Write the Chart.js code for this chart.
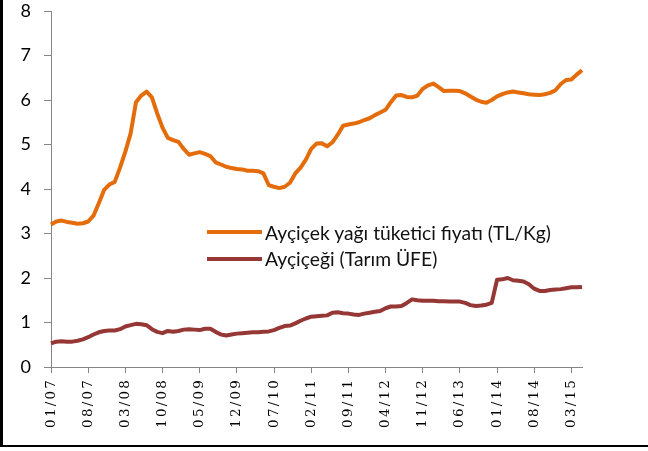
<!DOCTYPE html>
<html>
<head>
<meta charset="utf-8">
<script src="https://cdn.jsdelivr.net/npm/chart.js@4"></script>
<style>
  html, body { margin: 0; padding: 0; background: #fff; }
  #wrap { position: relative; width: 648px; height: 451px; }
  #legend { position: absolute; left: 207px; top: 219px; font-family: Lato, sans-serif; font-size: 19.3px; color: #111; }
  #legend .item { display: flex; align-items: center; height: 26.5px; white-space: nowrap; }
  #legend .swatch { width: 55px; height: 4px; margin-right: 3px; }
</style>
</head>
<body>
<div id="wrap">
  <canvas id="chart" width="648" height="451"></canvas>
  <div id="legend"></div>
</div>
<script>
  // monthly, 01/07 .. 05/15
  const months = [
    "01/07","02/07","03/07","04/07","05/07","06/07","07/07","08/07","09/07","10/07","11/07","12/07",
    "01/08","02/08","03/08","04/08","05/08","06/08","07/08","08/08","09/08","10/08","11/08","12/08",
    "01/09","02/09","03/09","04/09","05/09","06/09","07/09","08/09","09/09","10/09","11/09","12/09",
    "01/10","02/10","03/10","04/10","05/10","06/10","07/10","08/10","09/10","10/10","11/10","12/10",
    "01/11","02/11","03/11","04/11","05/11","06/11","07/11","08/11","09/11","10/11","11/11","12/11",
    "01/12","02/12","03/12","04/12","05/12","06/12","07/12","08/12","09/12","10/12","11/12","12/12",
    "01/13","02/13","03/13","04/13","05/13","06/13","07/13","08/13","09/13","10/13","11/13","12/13",
    "01/14","02/14","03/14","04/14","05/14","06/14","07/14","08/14","09/14","10/14","11/14","12/14",
    "01/15","02/15","03/15","04/15","05/15"
  ];

  // Ayçiçek yağı tüketici fiyatı (TL/Kg)
  const oilPrice = [
    3.20, 3.27, 3.29, 3.26, 3.24, 3.22, 3.23, 3.27, 3.40, 3.68, 3.98, 4.10,
    4.16, 4.48, 4.84, 5.25, 5.95, 6.10, 6.19, 6.06, 5.70, 5.38, 5.15, 5.10,
    5.06, 4.90, 4.77, 4.80, 4.83, 4.79, 4.74, 4.60, 4.55, 4.50, 4.47, 4.45,
    4.44, 4.41, 4.41, 4.40, 4.35, 4.09, 4.05, 4.02, 4.05, 4.14, 4.35, 4.48,
    4.66, 4.90, 5.02, 5.03, 4.96, 5.05, 5.22, 5.42, 5.45, 5.47, 5.50, 5.55,
    5.59, 5.66, 5.72, 5.78, 5.95, 6.10, 6.11, 6.07, 6.06, 6.10, 6.25, 6.33,
    6.37, 6.29, 6.20, 6.21, 6.21, 6.20, 6.15, 6.08, 6.01, 5.96, 5.94, 6.00,
    6.08, 6.13, 6.17, 6.19, 6.17, 6.15, 6.13, 6.12, 6.11, 6.13, 6.16, 6.22,
    6.36, 6.45, 6.46, 6.57, 6.67
  ];

  // Ayçiçeği (Tarım ÜFE)
  const seedPpi = [
    0.53, 0.57, 0.58, 0.57, 0.57, 0.59, 0.62, 0.67, 0.73, 0.78, 0.81, 0.82,
    0.82, 0.85, 0.91, 0.94, 0.97, 0.96, 0.94, 0.85, 0.79, 0.76, 0.81, 0.79,
    0.81, 0.84, 0.85, 0.84, 0.83, 0.86, 0.86, 0.79, 0.73, 0.71, 0.73, 0.75,
    0.76, 0.77, 0.78, 0.78, 0.79, 0.80, 0.83, 0.88, 0.92, 0.93, 0.98, 1.04,
    1.09, 1.13, 1.14, 1.15, 1.16, 1.22, 1.23, 1.21, 1.20, 1.18, 1.17, 1.20,
    1.22, 1.24, 1.26, 1.32, 1.36, 1.36, 1.37, 1.44, 1.52, 1.50, 1.49, 1.49,
    1.49, 1.48, 1.48, 1.47, 1.47, 1.47, 1.44, 1.39, 1.37, 1.38, 1.40, 1.44,
    1.96, 1.97, 2.00, 1.95, 1.94, 1.92, 1.86, 1.76, 1.71, 1.71, 1.73, 1.74,
    1.75, 1.77, 1.79, 1.79, 1.80
  ];

  const seriesNames = ["Ayçiçek yağı tüketici fiyatı (TL/Kg)", "Ayçiçeği (Tarım ÜFE)"];
  const seriesColors = ["#E46C0A", "#953735"];
  const yTicks = [0, 1, 2, 3, 4, 5, 6, 7, 8];
  const labelEvery = 7;

  const axisGray = "#868686";

  // black frame on the left and bottom edge of the picture
  const framePlugin = {
    id: "frame",
    beforeDraw(chart) {
      // wide-spaced rotated month labels
      const xs = chart.scales.x;
      if (xs && !xs._spaced) {
        const orig = xs.drawLabels.bind(xs);
        xs.drawLabels = (area) => {
          chart.ctx.save();
          chart.ctx.letterSpacing = "2.2px";
          orig(area);
          chart.ctx.restore();
        };
        xs._spaced = true;
      }
    },
    afterDraw(chart) {
      const ctx = chart.ctx;
      ctx.save();
      ctx.fillStyle = "#000";
      ctx.fillRect(0, 0, 3, 447);
      ctx.fillRect(0, 445, 648, 2);
      ctx.restore();
    }
  };

  const chart = new Chart(document.getElementById("chart"), {
    type: "line",
    data: {
      labels: months,
      datasets: [
        { label: seriesNames[0], data: oilPrice, borderColor: seriesColors[0], backgroundColor: seriesColors[0], borderWidth: 4, pointRadius: 0, tension: 0, borderJoinStyle: "round" },
        { label: seriesNames[1], data: seedPpi, borderColor: seriesColors[1], backgroundColor: seriesColors[1], borderWidth: 4, pointRadius: 0, tension: 0, borderJoinStyle: "round" }
      ]
    },
    options: {
      responsive: false, animation: false,
      layout: { padding: { top: 11, right: 66, left: 0, bottom: 0 } },
      plugins: { legend: { display: false }, tooltip: { enabled: false } },
      scales: {
        x: {
          type: "category", offset: false,
          grid: { display: true, drawOnChartArea: false, drawTicks: true, tickLength: 6, color: axisGray, offset: false },
          border: { display: true, color: axisGray, width: 1 },
          ticks: {
            autoSkip: false, maxRotation: 90, minRotation: 90, padding: 5, color: "#000",
            font: { family: "'DejaVu Serif', serif", size: 13.5 },
            callback: (v, i) => (i % labelEvery === 0 ? months[i] : null)
          },
          afterFit: (s) => { s.height = 84; s.paddingLeft = 0; s.paddingRight = 0; }
        },
        y: {
          min: yTicks[0], max: yTicks[yTicks.length - 1],
          afterBuildTicks: (s) => { s.ticks = yTicks.map((v) => ({ value: v })); },
          grid: { display: true, drawOnChartArea: false, drawTicks: true, tickLength: 7, color: axisGray },
          border: { display: true, color: axisGray, width: 1 },
          ticks: { color: "#000", padding: 13, font: { family: "Lato, sans-serif", size: 18 } },
          afterFit: (s) => { s.width = 51; s.paddingTop = 0; s.paddingBottom = 0; }
        }
      }
    },
    plugins: [framePlugin]
  });

  // legend built from the datasets
  const legend = document.getElementById("legend");
  chart.data.datasets.forEach((ds) => {
    const item = document.createElement("div");
    item.className = "item";
    const sw = document.createElement("span");
    sw.className = "swatch";
    sw.style.background = ds.borderColor;
    const tx = document.createElement("span");
    tx.textContent = ds.label;
    item.appendChild(sw);
    item.appendChild(tx);
    legend.appendChild(item);
  });
</script>
</body>
</html>
